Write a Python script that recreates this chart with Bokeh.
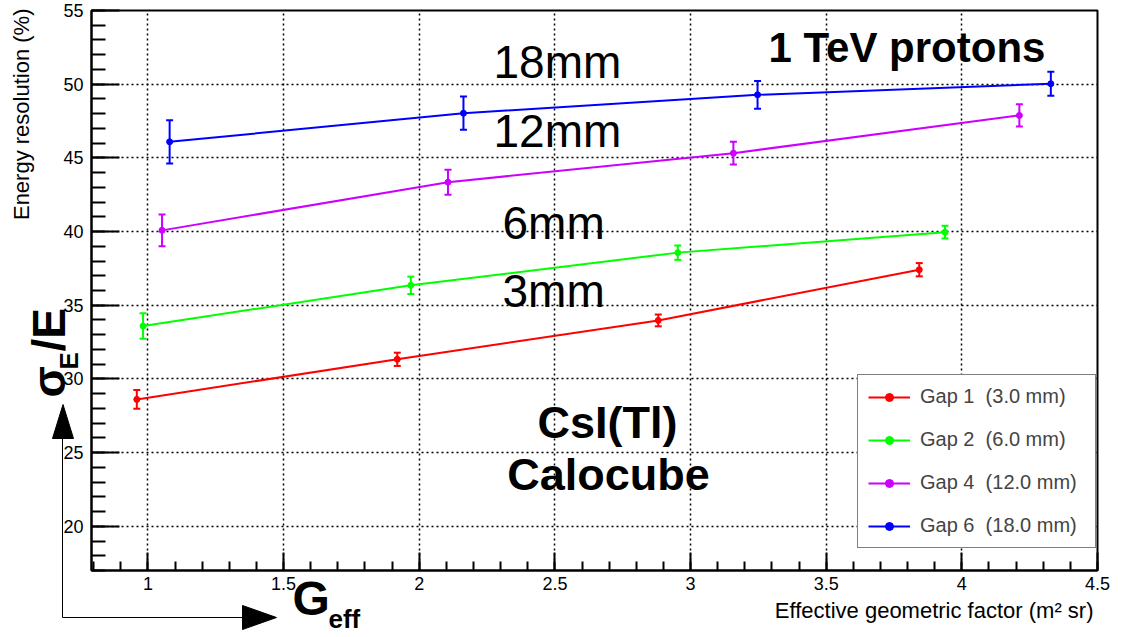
import math
from bokeh.plotting import figure
from bokeh.core.properties import value
from bokeh.models import (ColumnDataSource, Label, Legend, LegendItem, SingleIntervalTicker,
                          NumeralTickFormatter, Range1d)
from bokeh.embed import file_html
from bokeh.resources import INLINE

# ---------------- data ----------------
series_labels = ["Gap 1  (3.0 mm)", "Gap 2  (6.0 mm)", "Gap 4  (12.0 mm)", "Gap 6  (18.0 mm)"]
series_colors = ["#ff0000", "#00ff00", "#cc00ff", "#0000ff"]

gap1_x = [0.959, 1.919, 2.881, 3.843]
gap1_y = [28.61, 31.33, 33.97, 37.41]
gap1_err = [0.64, 0.45, 0.40, 0.45]

gap2_x = [0.982, 1.969, 2.953, 3.938]
gap2_y = [33.59, 36.35, 38.57, 39.96]
gap2_err = [0.87, 0.59, 0.49, 0.43]

gap4_x = [1.052, 2.106, 3.158, 4.212]
gap4_y = [40.08, 43.35, 45.32, 47.88]
gap4_err = [1.07, 0.85, 0.77, 0.75]

gap6_x = [1.080, 2.163, 3.247, 4.328]
gap6_y = [46.09, 48.03, 49.28, 50.03]
gap6_err = [1.47, 1.13, 0.94, 0.81]

X0, X1 = 0.792, 4.5
Y0, Y1 = 17.0, 55.0

FONT = "Liberation Sans"

# frame in page pixels: left 91, top 10, width 1006, height 560
FL, FT, FW, FH = 91, 10, 1006, 560
FB = FT + FH
BASE_SHIFT = 0.36   # empirical baseline correction (em)


def px(sx):
    return X0 + (sx - FL) * (X1 - X0) / FW


def py(sy):
    return Y1 - (sy - FT) * (Y1 - Y0) / FH


W, H = 1110, 634
p = figure(width=W, height=H, x_range=Range1d(X0, X1), y_range=Range1d(Y0, Y1),
           output_backend="svg", toolbar_location=None,
           min_border_left=FL, min_border_right=W - FL - FW, min_border_top=FT,
           min_border_bottom=H - FT - FH)
p.background_fill_color = "white"
p.border_fill_color = "white"
p.outline_line_color = "black"
p.outline_line_width = 2

xt = SingleIntervalTicker(interval=0.5, num_minor_ticks=5)
yt = SingleIntervalTicker(interval=5, num_minor_ticks=5)
p.xaxis.ticker = xt
p.yaxis.ticker = yt
p.xgrid.ticker = xt
p.ygrid.ticker = yt
p.xaxis.formatter = NumeralTickFormatter(format="0.[0]")
p.yaxis.formatter = NumeralTickFormatter(format="0")

for ax in (p.xaxis[0], p.yaxis[0]):
    ax.axis_line_color = "black"
    ax.axis_line_width = 2
    ax.major_tick_line_color = "black"
    ax.minor_tick_line_color = "black"
    ax.major_tick_line_width = 2
    ax.minor_tick_line_width = 2
    ax.major_tick_out = 0
    ax.minor_tick_out = 0
    ax.major_label_text_font = FONT
    ax.major_label_text_font_size = "18px"
    ax.major_label_text_color = "black"

p.yaxis.major_tick_in = 28
p.yaxis.minor_tick_in = 14
p.xaxis.major_tick_in = 18
p.xaxis.minor_tick_in = 9
p.yaxis.major_label_standoff = 8
p.xaxis.major_label_standoff = 6

for g in (p.xgrid[0], p.ygrid[0]):
    g.grid_line_color = "black"
    g.grid_line_dash = "2 3"
    g.grid_line_width = 1.5
    g.grid_line_alpha = 1.0

# ---------------- series ----------------
all_series = [(gap1_x, gap1_y, gap1_err), (gap2_x, gap2_y, gap2_err),
              (gap4_x, gap4_y, gap4_err), (gap6_x, gap6_y, gap6_err)]
items = []
for (xs, ys, es), col, lab in zip(all_series, series_colors, series_labels):
    src = ColumnDataSource(dict(x=xs, y=ys,
                                lower=[a - b for a, b in zip(ys, es)],
                                upper=[a + b for a, b in zip(ys, es)]))
    lr = p.line("x", "y", source=src, line_color=col, line_width=2)
    p.segment(x0="x", y0="lower", x1="x", y1="upper", source=src, line_color=col, line_width=2)
    p.scatter("x", "upper", source=src, marker="dash", size=7, line_color=col, line_width=2)
    p.scatter("x", "lower", source=src, marker="dash", size=7, line_color=col, line_width=2)
    sr = p.scatter("x", "y", source=src, size=6, marker="circle",
                   fill_color=col, line_color=col)
    items.append(LegendItem(label=lab, renderers=[lr, sr]))

legend = Legend(items=items, location=(857 - FL, FB - 548),
                label_text_font=FONT, label_text_font_size="20px",
                glyph_width=42, glyph_height=20, label_height=20, label_width=165,
                spacing=20, padding=10, margin=0, label_standoff=10,
                border_line_color="black", border_line_width=1.5,
                background_fill_color="white", background_fill_alpha=1.0)
p.add_layout(legend)


# ---------------- in-frame annotations ----------------
def lab(text, sx, sy, size, bold=False, align="left"):
    sy = sy - BASE_SHIFT * size
    p.add_layout(Label(x=px(sx), y=py(sy), text=text,
                       text_font=FONT, text_font_size=f"{size}px",
                       text_font_style="bold" if bold else "normal",
                       text_align=align, text_baseline="alphabetic",
                       text_color="black"))


lab("18mm", 493, 78, 46)
lab("12mm", 493, 147, 46)
lab("6mm", 502, 239, 46)
lab("3mm", 502, 307, 46)
lab("1 TeV protons", 768, 62, 42, bold=True)
lab("CsI(Tl)", 607, 438, 45, bold=True, align="center")
lab("Calocube", 608, 490, 45, bold=True, align="center")

# ---------------- transparent overlay (separate root) for texts/arrows outside the frame ----------------
q = figure(width=W, height=H, x_range=Range1d(0, W), y_range=Range1d(0, H),
           output_backend="svg", toolbar_location=None, min_border=0,
           x_axis_type=None, y_axis_type=None)
q.outline_line_color = None
q.background_fill_alpha = 0.0
q.border_fill_alpha = 0.0
q.styles = {"position": "absolute", "left": "0px", "top": "0px"}


def olab(text, sx, sy, size, bold=False, align="left", rotated=False):
    if rotated:
        x, y, ang = sx - BASE_SHIFT * size, H - sy, math.pi / 2
    else:
        x, y, ang = sx, H - (sy - BASE_SHIFT * size), 0.0
    q.text(x=[x], y=[y], text=[text], angle=ang,
           text_font=value(FONT), text_font_size=value(f"{size}px"),
           text_font_style="bold" if bold else "normal",
           text_align=align, text_baseline="alphabetic", text_color="black")


olab("Energy resolution (%)", 29, 8, 22, align="right", rotated=True)
olab("Effective geometric factor (m\u00b2 sr)", 1093, 618, 22, align="right")
olab("\u03c3", 65, 397, 46, bold=True, rotated=True)
olab("E", 78, 369, 26, bold=True, rotated=True)
olab("/E", 65, 351, 46, bold=True, rotated=True)
olab("G", 292, 615, 48, bold=True)
olab("eff", 328, 628, 26, bold=True)

# arrows
q.segment(x0=[62, 62], y0=[H - 617, H - 617], x1=[62, 243], y1=[H - 436, H - 617],
          line_color="black", line_width=1)
q.patches(xs=[[52, 73, 62.5], [242, 242, 276]],
          ys=[[H - 438, H - 438, H - 404], [H - 605, H - 629, H - 617]],
          fill_color="black", line_color="black", line_width=1)

open("out.html", "w").write(file_html([p, q], INLINE))
